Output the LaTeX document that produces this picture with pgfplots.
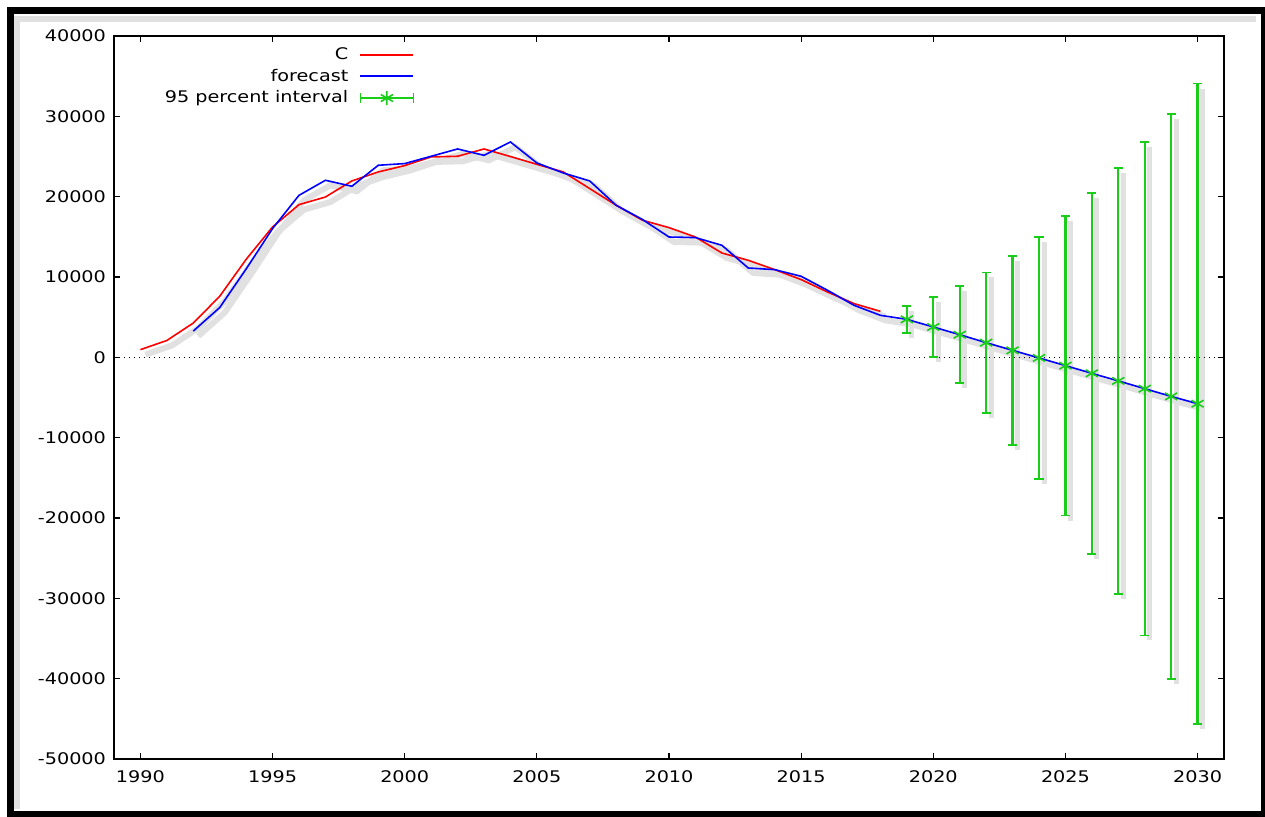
\documentclass[border=0pt]{standalone}
\usepackage{fontspec}
\setmainfont{DejaVu Sans}[FakeStretch=1.2]
\usepackage{pgfplots}
\usepackage{pgfplotstable}
\pgfplotsset{compat=1.18}
\definecolor{cred}{RGB}{255,0,0}
\definecolor{cblue}{RGB}{0,0,255}
\definecolor{cgreen}{RGB}{25,205,25}
\definecolor{shadowc}{RGB}{225,225,225}

\pgfplotstableread{
x y
1990 960
1991 2100
1992 4270
1993 7600
1994 12200
1995 16230
1996 19010
1997 19960
1998 21960
1999 23080
2000 23870
2001 24950
2002 25030
2003 25940
2004 25000
2005 24030
2006 23080
2007 21010
2008 18930
2009 17060
2010 16150
2011 14980
2012 12990
2013 12080
2014 10920
2015 9680
2016 8130
2017 6690
2018 5730
}\actual

\pgfplotstableread{
x y
1992 3270
1993 6200
1994 11000
1995 16030
1996 20170
1997 22040
1998 21300
1999 23910
2000 24120
2001 25030
2002 25940
2003 25150
2004 26810
2005 24200
2006 22950
2007 21960
2008 18930
2009 17150
2010 14980
2011 14910
2012 13950
2013 11120
2014 10920
2015 10090
2016 8340
2017 6480
2018 5230
2019 4730
2020 3780
2021 2820
2022 1830
2023 870
2024 -70
2025 -1030
2026 -1990
2027 -2930
2028 -3900
2029 -4860
2030 -5770
}\forecast

% forecast points of the interval
\pgfplotstableread{
x y
2019 4730
2020 3780
2021 2820
2022 1830
2023 870
2024 -70
2025 -1030
2026 -1990
2027 -2930
2028 -3900
2029 -4860
2030 -5770
}\center

% interval ends (upper, lower), one bar per year
\pgfplotstableread{
x y
2019 6435
2019 3025
2019 nan
2020 7480
2020 80
2020 nan
2021 8860
2021 -3220
2021 nan
2022 10570
2022 -6910
2022 nan
2023 12635
2023 -10895
2023 nan
2024 15020
2024 -15160
2024 nan
2025 17635
2025 -19695
2025 nan
2026 20470
2026 -24450
2026 nan
2027 23550
2027 -29410
2027 nan
2028 26820
2028 -34620
2028 nan
2029 30320
2029 -40040
2029 nan
2030 34085
2030 -45625
}\bars

\pgfplotsset{
  common/.style={
    scale only axis, width=555pt, height=361.5pt,
    xmin=1989, xmax=2031, ymin=-50000, ymax=40000,
    clip=false, unbounded coords=jump,
  }
}

\begin{document}
\begin{tikzpicture}[x=1pt,y=1pt]
\useasboundingbox (0,0) rectangle (632.5,408);
\fill[white] (0,0) rectangle (632.5,408);
% frame inner shadow
\draw[shadowc, line width=3pt] (8.5,3.5) -- (8.5,398.3) -- (628,398.3);
% shadow layer
\begin{axis}[common, at={(59.5pt,26pt)}, anchor=south west, axis lines=none, ticks=none]
\addplot[draw=shadowc, line width=3pt, mark=none] table[x=x,y=y] {\actual};
\addplot[draw=shadowc, line width=3pt, mark=none] table[x=x,y=y] {\forecast};
\addplot[draw=shadowc, line width=2.5pt, mark=none] table[x=x,y=y] {\bars};
\end{axis}
% main layer
\begin{axis}[common,
  at={(57pt,28.5pt)}, anchor=south west,
  xtick={1990,1995,...,2030},
  ytick={-50000,-40000,...,40000},
  scaled y ticks=false, scaled x ticks=false,
  /pgf/number format/1000 sep={},
  /pgf/number format/assume math mode=true,
  tick align=inside, major tick length=3pt,
  tick style={black, line width=0.6pt},
  axis line style={black, line width=0.7pt},
  ticklabel style={font=\fontsize{8pt}{9.6pt}\selectfont},
  yticklabel style={xshift=-0.5pt},
  xticklabel style={yshift=-2.5pt},
  legend cell align=right,
  legend plot pos=right,
  legend style={draw=none, fill=none, at={(rel axis cs:0.2765,0.995)}, anchor=north east,
    font=\fontsize{8pt}{9.6pt}\selectfont, row sep=-0.9pt},
]
\addplot[black, dotted, line width=0.5pt, forget plot] coordinates {(1989,0) (2031,0)};
\addplot[draw=cred, line width=0.8pt, mark=none,
  legend image code/.code={\draw[draw=cred, line width=1pt] (0pt,0.25pt) -- (26.5pt,0.25pt);}
  ] table[x=x,y=y] {\actual};
\addlegendentry{C\hspace*{3.5pt}}
\addplot[draw=cblue, line width=0.8pt, mark=none,
  legend image code/.code={\draw[draw=cblue, line width=1pt] (0pt,0.25pt) -- (26.5pt,0.25pt);}
  ] table[x=x,y=y] {\forecast};
\addlegendentry{forecast\hspace*{3.5pt}}
\addplot[draw=cgreen, line width=1.2pt, mark=-, mark size=2.3pt,
  mark options={draw=cgreen, line width=0.9pt}, forget plot] table[x=x,y=y] {\bars};
\addplot[draw=cgreen, only marks, mark=asterisk, mark size=3.5pt,
  mark options={draw=cgreen, line width=0.8pt},
  legend image code/.code={
    \draw[draw=cgreen, line width=1.1pt] (0pt,0pt) -- (26.5pt,0pt);
    \draw[draw=cgreen, line width=0.9pt] (0pt,-2.3pt) -- (0pt,2.3pt);
    \draw[draw=cgreen, line width=0.9pt] (26.5pt,-2.3pt) -- (26.5pt,2.3pt);
    \draw[draw=cgreen, line width=0.8pt] (13.25pt,0pt) -- ++(30:3.5pt) (13.25pt,0pt) -- ++(150:3.5pt)
      (13.25pt,0pt) -- ++(210:3.5pt) (13.25pt,0pt) -- ++(330:3.5pt) (13.25pt,0pt) -- ++(90:3.5pt) (13.25pt,0pt) -- ++(270:3.5pt);
  }
  ] table[x=x,y=y] {\center};
\addlegendentry{95 percent interval\hspace*{3.5pt}}
\end{axis}
% frame
\draw[black, line width=3.5pt] (5.2,0.6) rectangle (632.0,402.5);
\end{tikzpicture}
\end{document}
